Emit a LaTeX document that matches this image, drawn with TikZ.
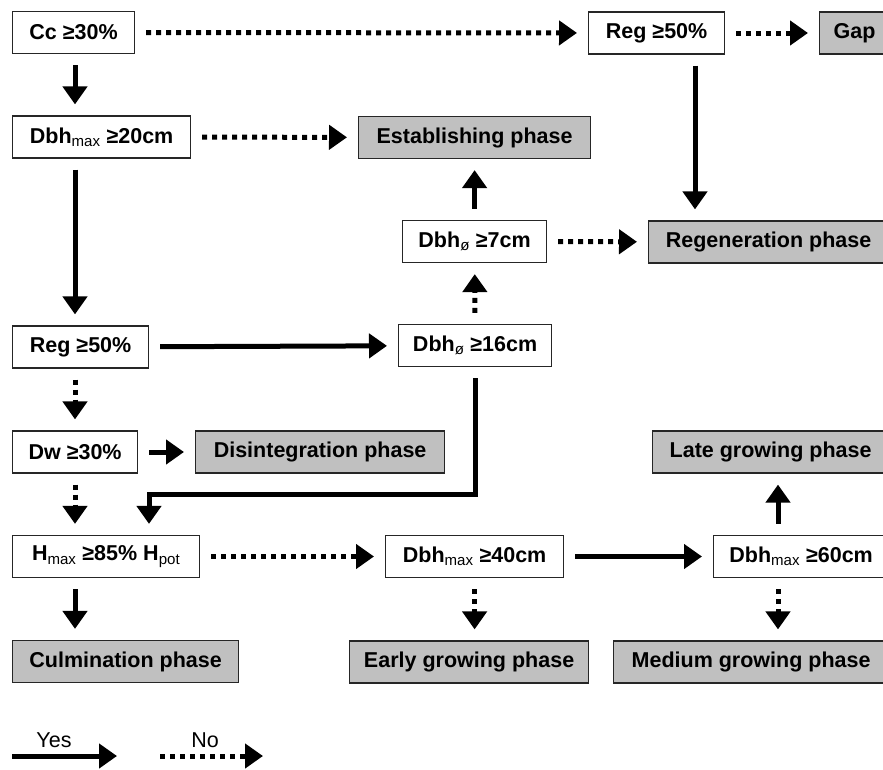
\documentclass[tikz,border=0pt]{standalone}
\usepackage{fontspec}
\setmainfont{Liberation Sans}
\usetikzlibrary{arrows.meta}

\definecolor{phasegray}{HTML}{C0C0C0}
\tikzset{
  >={Triangle[width=24pt,length=18pt]},
  cond/.style={draw=black!85, line width=1.2pt, fill=white, anchor=west,
    minimum height=42pt, inner sep=0pt, font=\fontsize{21.5}{24}\selectfont\bfseries},
  phase/.style={cond, fill=phasegray},
  yes/.style={->, line width=5pt, shorten <=11pt, shorten >=11pt},
  no/.style={yes, dash pattern=on 5pt off 5pt},
  legend/.style={font=\fontsize{21.5}{24}\selectfont},
}
\newcommand{\lowtxt}[1]{\textsubscript{\mdseries #1}}

\begin{document}
\begin{tikzpicture}[x=1pt, y=-1pt]
   \useasboundingbox (0,0) rectangle (883,769);

   \node[cond,  minimum width=122pt] (cc)     at (12,32.5)  {Cc ≥30\%};
   \node[cond,  minimum width=136pt] (regtop) at (588,33)   {Reg ≥50\%};
   \node[phase, minimum width=70pt]  (gap)    at (819,33)   {Gap};
   \node[cond,  minimum width=178pt] (dbh20)  at (12,137)   {Dbh\lowtxt{max} ≥20cm};
   \node[phase, minimum width=232pt] (estab)  at (358,137.5) {Establishing phase};
   \node[cond,  minimum width=144pt] (dbh7)   at (402,241.5) {Dbh\lowtxt{ø} ≥7cm};
   \node[phase, minimum width=240pt] (regen)  at (648,242)  {Regeneration phase};
   \node[cond,  minimum width=136pt] (regmid) at (12,347)   {Reg ≥50\%};
   \node[cond,  minimum width=153pt] (dbh16)  at (398,345.5) {Dbh\lowtxt{ø} ≥16cm};
   \node[cond,  minimum width=125pt] (dw)     at (12,452)   {Dw ≥30\%};
   \node[phase, minimum width=249pt] (disint) at (195,452)  {Disintegration phase};
   \node[phase, minimum width=236pt] (late)   at (652,452)  {Late growing phase};
   \node[cond,  minimum width=187pt] (hmax)   at (12,556.5) {H\lowtxt{max} ≥85\% H\lowtxt{pot}};
   \node[cond,  minimum width=178pt] (dbh40)  at (385,556.5) {Dbh\lowtxt{max} ≥40cm};
   \node[cond,  minimum width=175pt] (dbh60)  at (713,556.5) {Dbh\lowtxt{max} ≥60cm};
   \node[phase, minimum width=226pt] (culm)   at (12,661.5) {Culmination phase};
   \node[phase, minimum width=239pt] (early)  at (349,662)  {Early growing phase};
   \node[phase, minimum width=275pt] (medium) at (613,662)  {Medium growing phase};

   \coordinate (lcol) at (75,0);
   \coordinate (rcol) at (695,0);
   \coordinate (gcol) at (778,0);
   \coordinate (kink) at (149,494);

   \path[no]  (cc) edge (regtop);
   \path[no]  (regtop) edge (gap);
   \path[yes] (cc.south -| lcol) edge (dbh20.north -| lcol);
   \path[no]  (dbh20) edge (estab);
   \path[yes] (regtop.south -| rcol) edge (regen.north -| rcol);
   \path[yes] (dbh20.south -| lcol) edge (regmid.north -| lcol);
   \path[yes] (dbh7) edge (estab);
   \path[no]  (dbh7) edge (regen);
   \path[no]  (dbh16) edge (dbh7);
   \path[yes] (regmid) edge (dbh16);
   \path[no]  (regmid.south -| lcol) edge (dw.north -| lcol);
   \path[yes] (dw) edge (disint);
   \path[no]  (dw.south -| lcol) edge (hmax.north -| lcol);
   \draw[yes] (dbh16.south) |- (kink) -- (hmax.north -| kink);
   \path[yes] (hmax.south -| lcol) edge (culm.north -| lcol);
   \path[no]  (hmax) edge (dbh40);
   \path[yes] (dbh40) edge (dbh60);
   \path[no]  (dbh40.south) edge (dbh40.south |- early.north);
   \path[yes] (dbh60.north -| gcol) edge (late.south -| gcol);
   \path[no]  (dbh60.south -| gcol) edge (medium.north -| gcol);

   \coordinate (yesA) at (12,756);
   \coordinate (yesB) at (117,756);
   \coordinate (noA)  at (160,756);
   \coordinate (noB)  at (263,756);
   \node[legend] (yeslbl) at (54,740) {Yes};
   \node[legend] (nolbl)  at (205,740) {No};
   \path[yes, shorten <=0pt, shorten >=0pt] (yesA) edge (yesB);
   \path[no,  shorten <=0pt, shorten >=0pt] (noA) edge (noB);
\end{tikzpicture}
\end{document}
